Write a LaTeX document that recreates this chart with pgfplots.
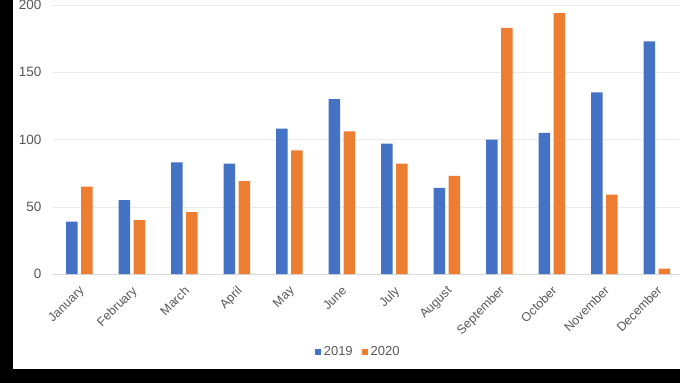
\documentclass[border=0pt]{standalone}
\usepackage{pgfplots}
\pgfplotsset{compat=1.18}
\usepackage{fontspec}
\setmainfont{Liberation Sans}
\definecolor{cblue}{HTML}{4472C4}
\definecolor{corange}{HTML}{ED7D31}
\definecolor{ctext}{RGB}{89,89,89}
\begin{document}
\begin{tikzpicture}[x=1pt,y=1pt]
\useasboundingbox (0,0) rectangle (680,383);
\fill[black] (0,0) rectangle (680,383);
\fill[white] (13,14) rectangle (680,383);
\begin{axis}[
  at={(53pt,109pt)}, anchor=south west,
  scale only axis, width=627pt, height=269pt,
  xmin=-0.5, xmax=11.44, ymin=0, ymax=200,
  ybar, bar width=11.5pt,
  ytick={0,50,100,150,200},
  xtick={0,...,11},
  xticklabels={January,February,March,April,May,June,July,August,September,October,November,December},
  major tick length=0pt,
  ymajorgrids, grid style={draw=black!8},
  axis y line*=left,
  y axis line style={draw=none},
  axis x line*=bottom,
  x axis line style={draw=black!15, -},
  /pgf/number format/assume math mode=true,
  yticklabel style={font=\fontsize{13.5}{14}\selectfont, text=ctext, anchor=east, xshift=-8pt},
  xticklabel style={font=\fontsize{12.5}{13}\selectfont, text=ctext, rotate=45, anchor=north east, xshift=-5pt, yshift=-4pt},
  legend style={at={(0.486,-0.289)}, anchor=center, draw=none, fill=none, legend columns=2,
    font=\fontsize{13}{13}\selectfont, text=ctext, inner sep=0pt,
    /tikz/every even column/.append style={column sep=8pt},
    nodes={inner sep=1pt}},
  legend image code/.code={\fill[#1] (0pt,-3pt) rectangle (6pt,3pt); \path (0pt,0pt) -- (8pt,0pt);},
  clip=false,
]
\addplot[fill=cblue, draw=none, bar shift=-7.5pt] coordinates {
 (0,39) (1,55) (2,83) (3,82) (4,108) (5,130) (6,97) (7,64) (8,100) (9,105) (10,135) (11,173)};
\addplot[fill=corange, draw=none, bar shift=7.5pt] coordinates {
 (0,65) (1,40) (2,46) (3,69) (4,92) (5,106) (6,82) (7,73) (8,183) (9,194) (10,59) (11,4)};
\legend{2019,2020}
\end{axis}
\end{tikzpicture}
\end{document}
